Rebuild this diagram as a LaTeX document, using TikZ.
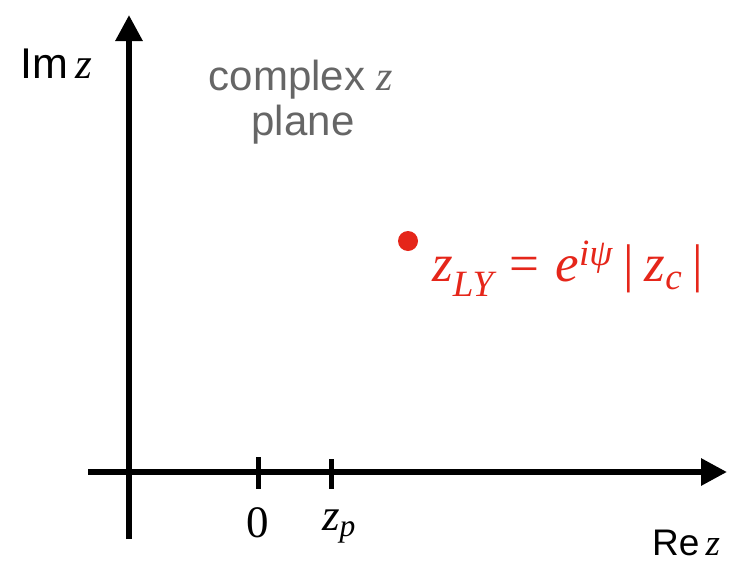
\documentclass[tikz,border=0pt]{standalone}
\usepackage{amsmath}
\usepackage{fontspec}
\setmainfont{Liberation Sans}
\newfontfamily\tms{Liberation Serif}
\usetikzlibrary{arrows.meta}
\newcommand\mi[1]{\text{\tms\itshape #1}}
\newcommand\mr[1]{\text{\tms #1}}
\definecolor{lyred}{HTML}{E5261A}
\definecolor{labgray}{HTML}{666666}
\tikzset{
  axis/.style={line width=6pt, -{Triangle[length=26pt,width=26pt]}},
  tick/.style={line width=5pt},
  lab/.style={inner sep=0pt, anchor=base west},
}
\begin{document}
\begin{tikzpicture}[x=1pt,y=-1pt]
\useasboundingbox (0,0) rectangle (731,568);
% axes
\coordinate (vb) at (129,539);
\coordinate (vt) at (129,15);
\coordinate (hl) at (88,472);
\coordinate (hr) at (727,472);
\draw[axis] (vb) -- (vt);
\draw[axis] (hl) -- (hr);
% ticks
\coordinate (t0a) at (258,457);
\coordinate (t0b) at (258,489);
\coordinate (tpa) at (331,459);
\coordinate (tpb) at (331,489);
\draw[tick] (t0a) -- (t0b);
\draw[tick] (tpa) -- (tpb);
% tick labels
\node[inner sep=0pt, anchor=base] (zero) at (258,537) {\fontsize{45}{50}\selectfont\tms 0};
\node[lab] (zp) at (322,530) {\fontsize{45}{50}\selectfont$\mi{z}_{\mi{p}}$};
% axis labels
\node[lab] (re) at (652,555) {\fontsize{37}{42}\selectfont Re\,{\tms\itshape z}};
\node[lab] (im) at (20,78) {\fontsize{43}{48}\selectfont Im\,{\tms\itshape z}};
% plane label
\node[inner sep=0pt, anchor=base, text=labgray] (cplx) at (301,90) {\fontsize{42}{48}\selectfont complex {\tms\itshape z}};
\node[inner sep=0pt, anchor=base, text=labgray] (plane) at (303,135) {\fontsize{42}{48}\selectfont plane};
% Lee-Yang zero
\node[circle, fill=lyred, minimum size=20pt, inner sep=0pt] (dot) at (408,241) {};
\node[lab, text=lyred] (eq) at (432,281) {\fontsize{53}{58}\selectfont$\mi{z}_{\mi{LY}}\mr{\hspace{0.3em}=\hspace{0.3em}}\mi{e}^{\mi{iψ}}\mr{\hspace{0.2em}|\hspace{0.2em}}\mi{z}_{\mi{c}}\mr{\hspace{0.2em}|}$};
\end{tikzpicture}
\end{document}
